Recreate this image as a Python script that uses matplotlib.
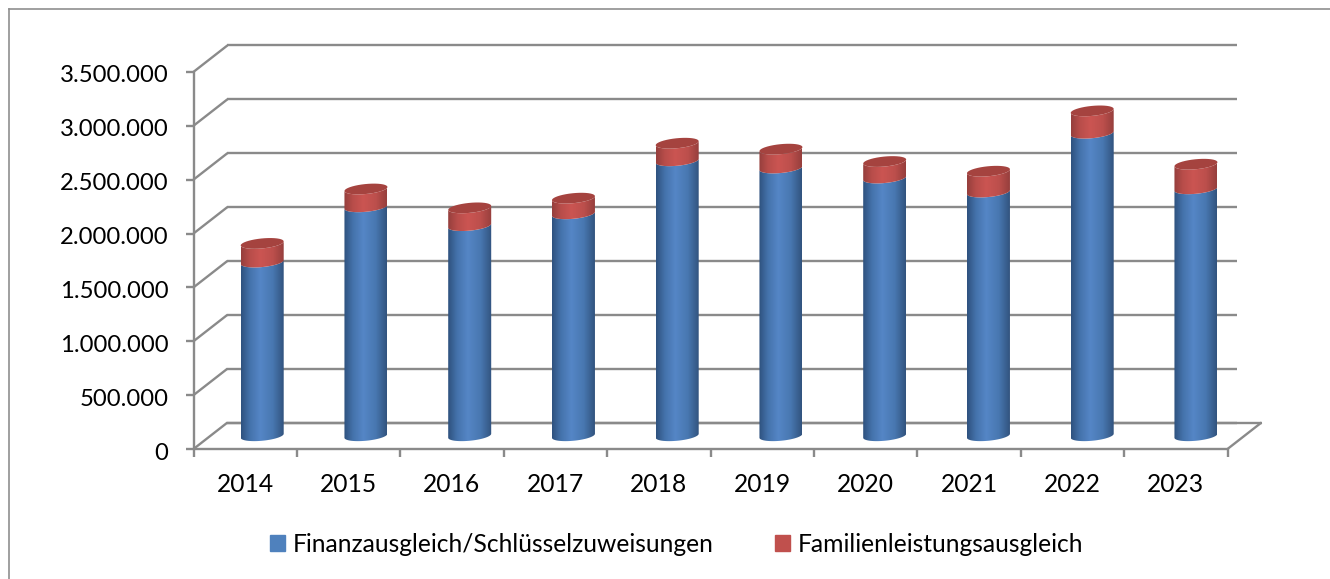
#!/usr/bin/env python3
import matplotlib

matplotlib.use("Agg")
import matplotlib.pyplot as plt
from matplotlib.colors import LinearSegmentedColormap
from matplotlib.patches import Patch, PathPatch
from matplotlib.path import Path
import numpy as np

YEARS = ["2014", "2015", "2016", "2017", "2018", "2019", "2020", "2021", "2022", "2023"]
FINANZ = [1612000, 2125000, 1950000, 2060000, 2552000, 2485000, 2392000, 2262000, 2808000, 2292000]
FAMILIE = [173000, 165000, 165000, 145000, 163000, 175000, 153000, 193000, 207000, 228000]
Y_TICKS = [0, 500000, 1000000, 1500000, 2000000, 2500000, 3000000, 3500000]
LEGEND_LABELS = ["Finanzausgleich/Schlüsselzuweisungen", "Familienleistungsausgleich"]

WIDTH, HEIGHT = 1330, 579
PX_X = 103.4  # pixels per category
PX_Y = 107.75 / 1_000_000  # pixels per unit
X0_PX, Y0_PX = 245.2, 449.0
DEPTH_X = 34 / PX_X
DEPTH_Y = 26.5 / PX_Y
BAR_STEP = 103.75 / PX_X  # the 3d projection spreads the bars a little wider than the ticks
BAR_HALF = 21.5 / PX_X
CAP_B = 5 / PX_Y
CAP_TILT = 2 / PX_Y
LINE = "#8a8a8a"
FONT = ["Lato", "DejaVu Sans"]
FONT_SIZE = 17.7

BLUE = LinearSegmentedColormap.from_list(
    "blue", [(0, "#2f527f"), (0.2, "#4472ab"), (0.45, "#5586c6"), (0.75, "#4877b0"), (1, "#32547f")]
)
RED = LinearSegmentedColormap.from_list(
    "red", [(0, "#963f3d"), (0.2, "#b84d4a"), (0.45, "#cb5552"), (0.75, "#bc4f4c"), (1, "#973f3d")]
)


def arc(x, y, start, stop):
    t = np.linspace(start, stop, 40)
    return x + BAR_HALF * np.cos(t), y + CAP_B * np.sin(t) + CAP_TILT * np.cos(t)


def cylinder(ax, x, y0, y1, cmap):
    # lower rim of both ends, sides run straight between them
    xb, yb = arc(x, y0, np.pi, 2 * np.pi)
    xt, yt = arc(x, y1, 2 * np.pi, np.pi)
    verts = np.column_stack([np.r_[xb, xt], np.r_[yb, yt]])
    clip = PathPatch(Path(verts), transform=ax.transData, facecolor="none", edgecolor="none")
    ax.add_patch(clip)
    grad = np.linspace(0, 1, 64).reshape(1, -1)
    im = ax.imshow(
        grad,
        extent=(x - BAR_HALF, x + BAR_HALF, y0 - 2 * CAP_B, y1 + 2 * CAP_B),
        cmap=cmap,
        aspect="auto",
        zorder=3,
    )
    im.set_clip_path(clip)


def main():
    fig = plt.figure(figsize=(WIDTH / 100, HEIGHT / 100), dpi=100)
    ax = fig.add_axes([0, 0, 1, 1])
    ax.axis("off")

    n = len(YEARS)
    left, right = -0.5, n - 0.5
    line_kw = dict(color=LINE, linewidth=1.7, solid_capstyle="butt", zorder=1)

    # back wall and side wall
    for value in Y_TICKS:
        ax.plot([left, left + DEPTH_X], [value, value + DEPTH_Y], **line_kw)
        ax.plot([left + DEPTH_X, right + 0.09], [value + DEPTH_Y, value + DEPTH_Y], **line_kw)
        ax.plot([left - 8 / PX_X, left], [value, value], **line_kw)
        ax.text(left - 25 / PX_X, value - 4 / PX_Y, f"{value:,}".replace(",", "."), ha="right", va="center",
                fontsize=17.2, family=FONT, color="black")

    # floor
    ax.plot([left + DEPTH_X, right + DEPTH_X], [DEPTH_Y, DEPTH_Y], **line_kw)
    ax.plot([right, right + DEPTH_X], [0, DEPTH_Y], **line_kw)
    ax.plot([left, right], [0, 0], **line_kw)
    ax.plot([left, left], [0, Y_TICKS[-1]], **line_kw)
    for i in range(n + 1):
        ax.plot([left + i, left + i], [0, -8 / PX_Y], **line_kw)

    for i, year in enumerate(YEARS):
        ax.text(i, -36 / PX_Y, year, ha="center", va="center", fontsize=FONT_SIZE, family=FONT, color="black")

        x = i * BAR_STEP + DEPTH_X / 2
        base = DEPTH_Y / 2
        blue_top = base + FINANZ[i]
        red_top = blue_top + FAMILIE[i]
        cylinder(ax, x, base, blue_top, BLUE)
        cylinder(ax, x, blue_top, red_top, RED)
        xc, yc = arc(x, red_top, 0, 2 * np.pi)
        ax.fill(xc, yc, color="#a5433f", linewidth=0, zorder=4)

    ax.set_xlim((0 - X0_PX) / PX_X, (WIDTH - X0_PX) / PX_X)
    ax.set_ylim((Y0_PX - HEIGHT) / PX_Y, Y0_PX / PX_Y)

    # outer chart border: only top and left are inside the crop
    ax.plot([(8.5 - X0_PX) / PX_X] * 2, [(Y0_PX - HEIGHT) / PX_Y, (Y0_PX - 9) / PX_Y], color="#8f8f8f", linewidth=1.2)
    ax.plot([(8.5 - X0_PX) / PX_X, (WIDTH - X0_PX) / PX_X], [(Y0_PX - 9) / PX_Y] * 2, color="#8f8f8f", linewidth=1.2)

    handles = [Patch(color="#4f81bd"), Patch(color="#c0504d")]
    ax.legend(
        handles,
        LEGEND_LABELS,
        ncol=2,
        loc="center",
        bbox_to_anchor=(676.5 / WIDTH, 1 - 544 / HEIGHT),
        frameon=False,
        handlelength=0.62,
        handleheight=0.62,
        handletextpad=0.3,
        columnspacing=2.52,
        borderpad=0,
        prop={"family": FONT, "size": FONT_SIZE},
    )

    fig.savefig("out.png", dpi=100)
    plt.close(fig)


if __name__ == "__main__":
    main()
